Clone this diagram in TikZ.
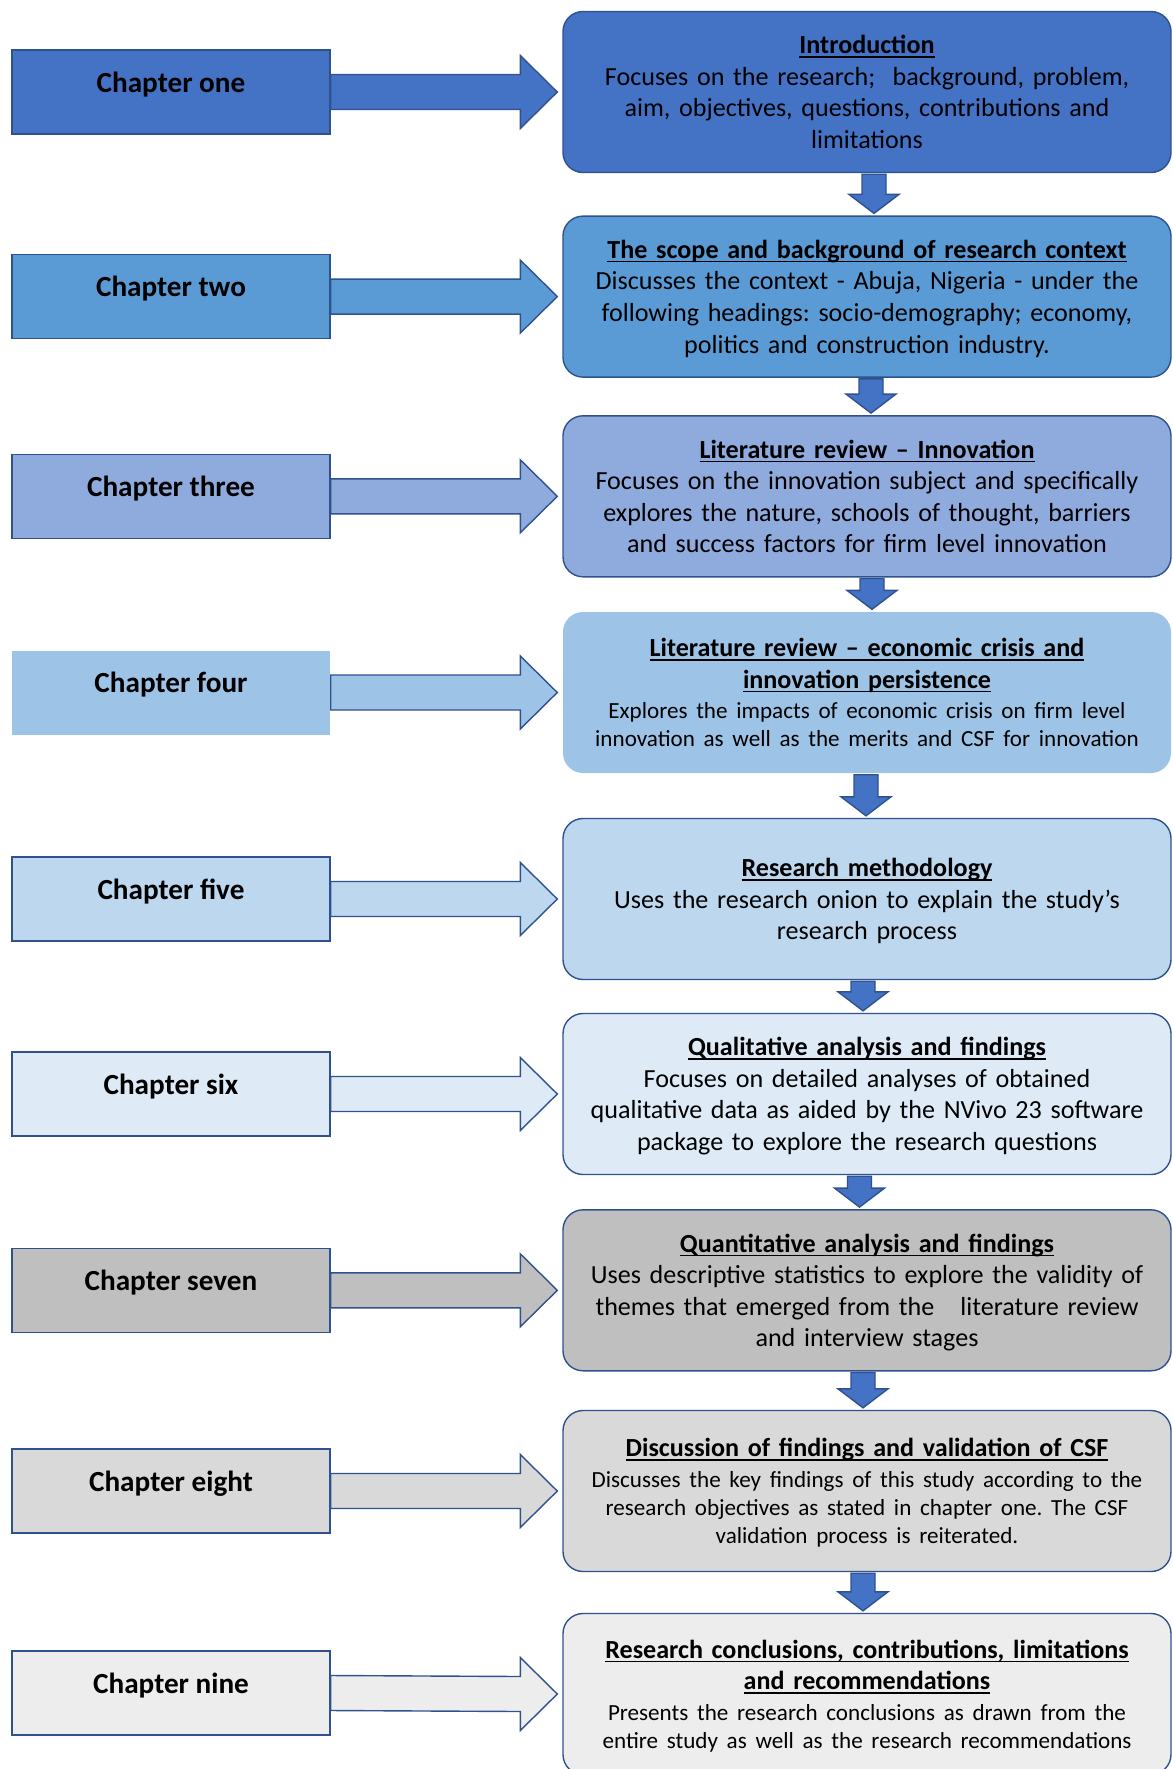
\documentclass[tikz,border=0pt]{standalone}
\usepackage{fontspec}
\setmainfont{Carlito}
\usetikzlibrary{calc}
\frenchspacing

\definecolor{edge}{HTML}{2F528F}
\definecolor{arrowblue}{HTML}{4472C4}
\definecolor{cA}{HTML}{4472C4}
\definecolor{cB}{HTML}{5B9BD5}
\definecolor{cC}{HTML}{8FAADC}
\definecolor{cD}{HTML}{9DC3E6}
\definecolor{cE}{HTML}{BDD7EE}
\definecolor{cF}{HTML}{DEEBF7}
\definecolor{cG}{HTML}{BFBFBF}
\definecolor{cH}{HTML}{D9D9D9}
\definecolor{cI}{HTML}{EDEDED}

% underlined bold heading line
\newsavebox\ulbox
\newcommand\topichead[1]{\leavevmode\sbox\ulbox{\bfseries #1}\rlap{\rule[-2pt]{\wd\ulbox}{0.7pt}}\usebox\ulbox}
% last line of a box: descenders do not count for centring
\newcommand\lastline[1]{\leavevmode\raisebox{0pt}[\height][0pt]{#1}\par}
\newcommand\smalltext{\fontsize{11.55}{14.1}\selectfont}

\tikzset{
  chapbox/.style={draw=edge, line width=0.7pt, minimum width=159pt, minimum height=42pt, inner sep=0pt, fill=#1},
  topicbox/.style={draw=edge, line width=0.7pt, rounded corners=10pt, minimum width=304pt, minimum height=80.5pt,
    inner sep=0pt, text width=304pt, align=center, fill=#1, font=\fontsize{13.05}{15.8}\selectfont},
  chaptext/.style={anchor=base, inner sep=0pt, font=\bfseries\fontsize{14.6}{17.5}\selectfont},
  blockline/.style={draw=edge, line width=0.7pt, line join=miter},
}

% wide right-pointing arrow from chapter box #1 to topic box #2, fill #3
\newcommand\sidearrow[3]{%
  \draw[blockline, fill=#3]
    ($(#1.east)+(0,-17.5)$) -- ($(#2.west)+(-42,-17.5)$) -- ($(#2.west)+(-42,-36.5)$)
    -- ($(#2.west)+(-5,0)$)
    -- ($(#2.west)+(-42,36.5)$) -- ($(#2.west)+(-42,17.5)$) -- ($(#1.east)+(0,17.5)$) -- cycle;}

% short downward block arrow between topic boxes #1 and #2, shifted by #3
\newcommand\stepdown[3]{%
  \draw[blockline, fill=arrowblue]
    ($(#1.south)+(#3-12,1)$) -- ($(#1.south)+(#3+12,1)$) -- ($(#2.north)+(#3+12,-21)$)
    -- ($(#2.north)+(#3+25,-21)$) -- ($(#2.north)+(#3,-2)$) -- ($(#2.north)+(#3-25,-21)$)
    -- ($(#2.north)+(#3-12,-21)$) -- cycle;}

\begin{document}
\begin{tikzpicture}[x=0.5pt, y=-0.5pt]
\useasboundingbox (0,0) rectangle (1173,1769);

% topic boxes
\node[topicbox=cA] (r1) at (867,92) {\topichead{Introduction}\\
  Focuses on the research;\ \ background, problem,\\
  aim, objectives, questions, contributions and\\
  \lastline{limitations}};
\node[topicbox=cB] (r2) at (867,296.6) {\topichead{The scope and background of research context}\\
  Discusses the context - Abuja, Nigeria - under the\\
  following headings: socio-demography; economy,\\
  \lastline{politics and construction industry.}};
\node[topicbox=cC] (r3) at (867,496.3) {\topichead{Literature review – Innovation}\\
  Focuses on the innovation subject and specifically\\
  explores the nature, schools of thought, barriers\\
  \lastline{and success factors for firm level innovation}};
\node[topicbox=cD, draw=none] (r4) at (867,692.5) {\topichead{Literature review – economic crisis and}\\
  \topichead{innovation persistence}\\[1.1pt]
  \smalltext Explores the impacts of economic crisis on firm level\\
  \lastline{innovation as well as the merits and CSF for innovation}};
\node[topicbox=cE] (r5) at (867,899) {\topichead{Research methodology}\\
  Uses the research onion to explain the study’s\\
  \lastline{research process}};
\node[topicbox=cF] (r6) at (867,1094) {\topichead{Qualitative analysis and findings}\\
  Focuses on detailed analyses of obtained\\
  qualitative data as aided by the NVivo 23 software\\
  \lastline{package to explore the research questions}};
\node[topicbox=cG] (r7) at (867,1290.3) {\topichead{Quantitative analysis and findings}\\
  Uses descriptive statistics to explore the validity of\\
  themes that emerged from the\ \ \ literature review\\
  \lastline{and interview stages}};
\node[topicbox=cH] (r8) at (867,1491) {\topichead{Discussion of findings and validation of CSF}\\[1.1pt]
  \smalltext Discusses the key findings of this study according to the\\
  research objectives as stated in chapter one. The CSF\\
  \lastline{validation process is reiterated.}};
\node[topicbox=cI] (r9) at (867,1694) {\topichead{Research conclusions, contributions, limitations}\\
  \topichead{and recommendations}\\[1.1pt]
  \smalltext Presents the research conclusions as drawn from the\\
  \lastline{entire study as well as the research recommendations}};

% chapter boxes, level with their topic boxes
\node[chapbox=cA] (l1) at (171,92) {};
\node[chapbox=cB] (l2) at (171,296.6) {};
\node[chapbox=cC] (l3) at (171,496.3) {};
\node[chapbox=cD, draw=none] (l4) at (171,692.5) {};
\node[chapbox=cE] (l5) at (171,899) {};
\node[chapbox=cF] (l6) at (171,1094) {};
\node[chapbox=cG] (l7) at (171,1290.3) {};
\node[chapbox=cH] (l8) at (171,1491) {};
\node[chapbox=cI] (l9) at (171,1693) {};

\node[chaptext] (t1) at (l1.center) {Chapter one};
\node[chaptext] (t2) at (l2.center) {Chapter two};
\node[chaptext] (t3) at (l3.center) {Chapter three};
\node[chaptext] (t4) at (l4.center) {Chapter four};
\node[chaptext] (t5) at (l5.center) {Chapter five};
\node[chaptext] (t6) at (l6.center) {Chapter six};
\node[chaptext] (t7) at (l7.center) {Chapter seven};
\node[chaptext] (t8) at (l8.center) {Chapter eight};
\node[chaptext] (t9) at (l9.center) {Chapter nine};

% chapter to topic arrows
\sidearrow{l1}{r1}{cA}
\sidearrow{l2}{r2}{cB}
\sidearrow{l3}{r3}{cC}
\sidearrow{l4}{r4}{cD}
\sidearrow{l5}{r5}{cE}
\sidearrow{l6}{r6}{cF}
\sidearrow{l7}{r7}{cG}
\sidearrow{l8}{r8}{cH}
\sidearrow{l9}{r9}{cI}

% flow between topics
\stepdown{r1}{r2}{7}
\stepdown{r2}{r3}{4}
\stepdown{r3}{r4}{5}
\stepdown{r4}{r5}{-1}
\stepdown{r5}{r6}{-4}
\stepdown{r6}{r7}{-7.5}
\stepdown{r7}{r8}{-4}
\stepdown{r8}{r9}{-4}
\end{tikzpicture}
\end{document}
